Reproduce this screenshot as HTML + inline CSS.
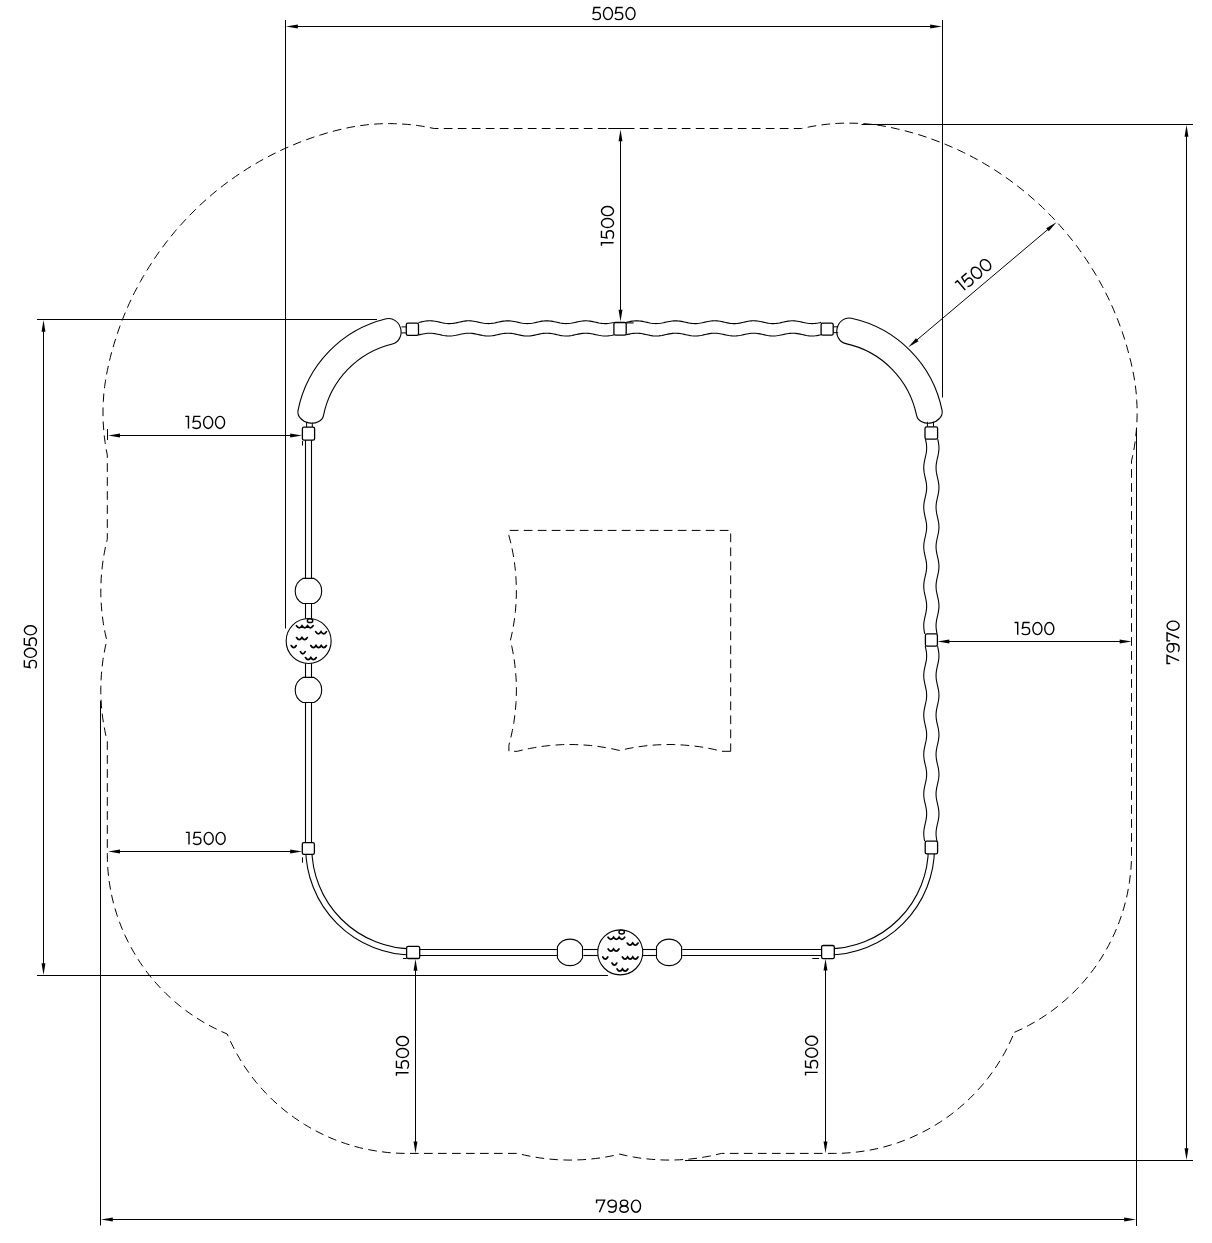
<!DOCTYPE html>
<html><head><meta charset="utf-8"><style>
html,body{margin:0;padding:0;background:#fff;}
svg{display:block;}
text{font-family:"Liberation Sans",sans-serif;fill:#000;text-anchor:middle;stroke:#fff;stroke-width:0.45px;}

.s{stroke:#000;stroke-width:1;fill:none;}
.f{fill:#000;stroke:none;}
.d{stroke:#000;stroke-width:1;fill:none;stroke-dasharray:8.7 5.3;}
.st{stroke:#000;stroke-width:1.1;fill:none;}
.th{stroke:#000;stroke-width:1.0;fill:none;}
.cn{stroke:#000;stroke-width:1.3;fill:#fff;}
.gt{stroke:#000;stroke-width:1.4;fill:none;stroke-linejoin:miter;}
.cup{stroke:#000;stroke-width:1.75;fill:none;stroke-linecap:round;}
</style></head><body>
<svg width="1212" height="1243" viewBox="0 0 1212 1243">
<rect width="1212" height="1243" fill="#fff"/>
<path class="d" d="M1014.4 1032.3L1022.3 1028.7L1028.7 1025.4L1034.9 1021.9L1041.1 1018.2L1047.0 1014.3L1052.9 1010.1L1058.5 1005.8L1062.2 1002.7L1065.8 999.6L1071.1 994.8L1076.2 989.7L1081.1 984.5L1084.3 980.9L1088.9 975.4L1093.2 969.8L1097.4 963.9L1101.3 958.0L1105.0 951.8L1108.5 945.6L1111.8 939.2L1114.8 932.7L1117.6 926.1L1119.3 921.7L1121.7 914.9L1123.8 908.1L1125.7 901.2L1127.3 894.2L1128.6 887.2L1129.4 882.4L1130.3 875.3L1131.0 868.2L1131.4 861.1L1131.5 853.9L1131.5 460.9L1132.6 456.1L1133.6 451.1L1134.5 446.1L1135.2 441.1L1135.8 436.0L1136.3 430.9L1136.9 423.3L1137.1 415.7L1137.1 410.6L1137.0 405.5L1136.7 400.4L1136.4 395.3L1135.9 390.2L1135.3 385.1L1134.5 380.1L1133.7 375.1L1132.4 368.9L1131.0 362.4L1129.5 356.5L1127.8 350.1L1126.2 344.3L1124.2 338.0L1122.3 332.2L1120.5 327.1L1118.2 320.9L1115.9 315.3L1113.4 309.2L1110.9 303.7L1108.1 297.6L1105.4 292.2L1102.3 286.3L1099.4 281.0L1096.2 275.3L1093.0 270.1L1089.5 264.5L1086.2 259.4L1082.4 254.0L1079.3 249.5L1075.7 244.7L1072.4 240.4L1068.2 235.2L1064.3 230.6L1060.0 225.6L1055.9 221.1L1051.4 216.3L1047.1 212.0L1042.4 207.3L1038.0 203.2L1033.0 198.8L1028.9 195.2L1024.8 191.7L1020.0 188.0L1014.8 183.9L1009.9 180.3L1005.5 177.2L1000.0 173.4L995.0 170.1L989.4 166.6L984.2 163.5L979.5 160.8L973.6 157.6L968.3 154.8L963.4 152.4L957.4 149.5L951.9 147.1L945.8 144.5L940.2 142.2L934.0 139.9L928.3 137.8L922.0 135.7L916.2 133.9L909.9 132.1L904.0 130.5L897.6 129.0L891.0 127.5L886.0 126.5L880.9 125.6L875.9 124.9L868.3 124.0L863.2 123.6L858.1 123.3L853.0 123.2L847.9 123.1L842.8 123.2L837.7 123.4L832.6 123.7L827.6 124.2L820.0 125.1L814.9 125.9L809.9 126.8L801.6 128.5L434.2 128.5L427.6 127.2L422.6 126.3L417.6 125.5L412.5 124.9L407.4 124.4L399.8 123.9L394.7 123.7L389.6 123.6L384.5 123.7L379.4 123.8L371.8 124.3L366.7 124.8L359.1 125.8L354.1 126.6L349.1 127.5L341.6 129.2L334.5 130.9L327.6 132.8L320.8 134.9L312.9 137.4L305.7 140.0L299.0 142.5L291.4 145.7L284.8 148.5L278.4 151.5L272.0 154.7L265.7 158.0L259.5 161.4L253.4 165.0L247.3 168.7L241.3 172.6L235.4 176.6L229.6 180.7L223.9 184.9L218.3 189.3L212.8 193.8L207.4 198.5L202.1 203.2L196.9 208.1L191.9 213.1L187.7 217.3L183.3 222.1L179.3 226.5L175.0 231.4L171.3 236.0L167.2 241.1L163.6 245.8L159.7 251.0L156.3 255.9L152.7 261.3L149.5 266.3L146.0 271.8L143.3 276.4L140.4 281.5L137.3 287.3L134.5 292.5L131.7 298.4L129.1 303.8L126.5 309.7L124.2 315.2L121.8 321.2L119.7 326.8L117.6 332.9L115.7 338.6L113.8 344.8L111.8 351.6L110.3 357.4L108.8 363.7L107.3 370.7L106.2 376.3L105.4 381.3L104.7 386.3L103.8 393.9L103.3 401.6L103.0 409.2L103.0 416.9L103.2 422.0L103.5 427.1L103.9 432.1L104.4 437.2L105.1 442.3L105.8 447.3L107.3 455.1L107.3 539.3L105.8 545.4L104.3 552.9L103.4 557.9L102.4 565.5L101.6 573.1L101.2 578.2L100.9 585.8L100.8 593.5L100.9 598.5L101.4 606.2L101.8 611.3L102.4 616.3L103.4 623.9L104.3 628.9L105.3 633.9L106.8 640.4L105.3 646.9L103.9 654.4L103.0 659.4L102.1 667.0L101.4 674.6L101.1 679.7L100.8 687.3L100.8 692.5L100.9 697.5L101.4 705.2L101.8 710.3L102.7 717.9L103.9 725.4L104.8 730.4L105.8 735.4L107.3 741.5L107.3 854.4L107.4 859.2L107.5 863.9L108.0 871.1L108.8 878.2L109.4 882.9L110.6 890.0L112.0 897.0L113.7 904.0L115.0 908.6L117.1 915.4L119.5 922.2L122.1 928.8L125.0 935.4L128.1 941.8L130.3 946.1L133.8 952.3L136.2 956.4L140.1 962.5L144.2 968.3L147.0 972.2L151.4 977.8L156.1 983.2L160.9 988.5L166.0 993.6L171.2 998.5L174.8 1001.7L180.3 1006.3L185.9 1010.6L189.8 1013.4L195.7 1017.4L201.8 1021.2L208.0 1024.8L214.4 1028.1L220.8 1031.2L227.2 1034.0L228.8 1037.7L230.8 1042.1L232.9 1046.3L235.1 1050.6L237.4 1054.8L239.8 1058.9L242.3 1063.0L244.9 1067.0L247.6 1070.9L250.4 1074.8L253.3 1078.6L256.2 1082.3L259.3 1085.9L262.5 1089.5L265.7 1093.0L269.1 1096.4L272.5 1099.8L276.0 1103.0L281.4 1107.7L285.1 1110.8L288.8 1113.7L294.6 1117.9L300.5 1121.9L304.6 1124.5L308.7 1126.9L312.8 1129.3L317.0 1131.5L323.4 1134.7L330.0 1137.7L334.4 1139.5L338.8 1141.2L345.6 1143.6L350.1 1145.0L354.7 1146.4L359.3 1147.6L364.0 1148.7L371.0 1150.1L375.7 1150.9L380.4 1151.6L387.5 1152.5L392.3 1152.9L397.1 1153.2L404.2 1153.4L517.8 1153.4L524.6 1155.1L532.1 1156.6L539.6 1157.9L544.7 1158.5L549.7 1159.1L557.4 1159.7L565.0 1160.0L570.1 1160.1L575.2 1160.0L582.8 1159.7L590.5 1159.1L595.5 1158.5L600.6 1157.9L608.1 1156.6L613.1 1155.6L619.6 1154.1L626.1 1155.6L633.6 1157.0L638.6 1157.9L646.2 1158.8L651.3 1159.3L658.9 1159.8L664.0 1160.0L671.7 1160.1L679.3 1159.8L684.4 1159.5L689.5 1159.1L697.1 1158.2L704.6 1157.0L709.6 1156.1L714.6 1155.1L721.4 1153.4L834.3 1153.4L841.5 1153.3L846.2 1153.0L851.0 1152.7L858.1 1151.9L865.2 1150.9L869.9 1150.1L876.9 1148.7L883.9 1147.0L890.8 1145.0L897.6 1142.8L904.3 1140.4L910.9 1137.7L917.5 1134.7L923.9 1131.5L928.1 1129.3L934.3 1125.7L940.4 1121.9L946.3 1117.9L950.2 1115.1L955.8 1110.8L959.5 1107.7L964.9 1103.0L970.1 1098.1L975.2 1093.0L980.0 1087.7L983.1 1084.1L987.6 1078.6L991.9 1072.8L994.7 1068.9L997.3 1065.0L1001.1 1058.9L1004.7 1052.7L1008.0 1046.3L1011.1 1039.9Z"/>
<path class="d" d="M730.7 751.3L721.8 751.3L714.6 749.5L707.1 748.0L699.6 746.7L692.0 745.8L684.4 745.1L679.3 744.8L674.2 744.6L669.1 744.5L664.0 744.6L656.4 744.9L648.7 745.5L643.7 746.1L636.1 747.1L631.1 748.0L626.1 749.0L619.6 750.5L613.1 749.0L605.6 747.6L598.1 746.4L590.5 745.5L582.8 744.9L575.2 744.6L567.5 744.5L562.5 744.6L554.8 745.1L549.7 745.5L544.7 746.1L539.6 746.7L534.6 747.6L529.6 748.5L524.6 749.5L517.4 751.3L508.9 751.3L508.9 745.2L510.8 737.9L512.4 730.4L513.8 722.9L514.8 715.3L515.4 710.3L516.0 702.6L516.3 697.5L516.4 689.9L516.3 682.3L516.0 677.2L515.4 669.5L514.8 664.5L513.8 656.9L512.9 651.9L511.9 646.9L510.4 640.4L511.9 633.9L513.3 626.4L514.5 618.9L515.4 611.3L516.0 603.6L516.3 596.0L516.4 588.3L516.1 580.7L515.8 575.6L515.4 570.5L514.8 565.5L514.2 560.4L512.9 552.9L511.9 547.9L510.8 542.9L508.9 535.6L508.9 530.4L730.7 530.4Z"/>
<path class="st" d="M298.03 410.34A118.2 118.2 0 0 1 386.31 318.77A13 11.8 256.5 0 1 392.38 344.05A92.2 92.2 0 0 0 323.52 415.48A13 10.2 191.4 0 1 298.03 410.34Z"/>
<path class="st" d="M851.38 318.21A118.2 118.2 0 0 1 942.07 410.34A13 10.2 348.6 0 1 916.58 415.48A92.2 92.2 0 0 0 845.84 343.62A13 11.8 282.3 0 1 851.38 318.21Z"/>
<line class="th" x1="401.5" y1="326.9" x2="406.3" y2="326.9"/>
<line class="th" x1="401.5" y1="332.9" x2="406.3" y2="332.9"/>
<line class="th" x1="833.4" y1="326.8" x2="838.2" y2="326.8"/>
<line class="th" x1="833.4" y1="332.7" x2="838.2" y2="332.7"/>
<line class="th" x1="306.6" y1="422.5" x2="306.6" y2="427.3"/>
<line class="th" x1="312.3" y1="422.5" x2="312.3" y2="427.3"/>
<line class="th" x1="927.4" y1="421.8" x2="927.4" y2="426.8"/>
<line class="th" x1="933.5" y1="421.8" x2="933.5" y2="426.8"/>
<path class="st" d="M418.5 322.55L419.99 322.21L421.48 321.88L422.97 321.56L424.46 321.29L425.95 321.06L427.45 320.9L428.94 320.81L430.43 320.81L431.92 320.88L433.41 321.03L434.9 321.25L436.39 321.52L437.88 321.83L439.37 322.16L440.86 322.49L442.35 322.81L443.84 323.09L445.34 323.32L446.83 323.49L448.32 323.58L449.81 323.6L451.3 323.53L452.79 323.38L454.28 323.17L455.77 322.91L457.26 322.6L458.75 322.27L460.24 321.93L461.73 321.61L463.23 321.33L464.72 321.09L466.21 320.92L467.7 320.82L469.19 320.8L470.68 320.86L472.17 321L473.66 321.21L475.15 321.47L476.64 321.78L478.13 322.11L479.62 322.44L481.12 322.76L482.61 323.05L484.1 323.29L485.59 323.47L487.08 323.57L488.57 323.6L490.06 323.54L491.55 323.41L493.04 323.21L494.53 322.95L496.02 322.65L497.51 322.32L499.01 321.99L500.5 321.66L501.99 321.37L503.48 321.13L504.97 320.94L506.46 320.83L507.95 320.8L509.44 320.85L510.93 320.97L512.42 321.17L513.91 321.43L515.4 321.73L516.9 322.05L518.39 322.39L519.88 322.71L521.37 323.01L522.86 323.26L524.35 323.44L525.84 323.56L527.33 323.6L528.82 323.56L530.31 323.44L531.8 323.25L533.29 323L534.79 322.7L536.28 322.37L537.77 322.04L539.26 321.71L540.75 321.41L542.24 321.16L543.73 320.97L545.22 320.85L546.71 320.8L548.2 320.84L549.69 320.95L551.18 321.14L552.68 321.38L554.17 321.68L555.66 322L557.15 322.33L558.64 322.66L560.13 322.96L561.62 323.22L563.11 323.42L564.6 323.55L566.09 323.6L567.58 323.57L569.07 323.46L570.57 323.28L572.06 323.04L573.55 322.75L575.04 322.43L576.53 322.09L578.02 321.76L579.51 321.46L581 321.2L582.49 320.99L583.98 320.86L585.47 320.8L586.96 320.82L588.46 320.93L589.95 321.1L591.44 321.34L592.93 321.63L594.42 321.95L595.91 322.28L597.4 322.61L598.89 322.92L600.38 323.18L601.87 323.39L603.36 323.53L604.85 323.6L606.35 323.58L607.84 323.48L609.33 323.32L610.82 323.08L612.31 322.8L613.8 322.48"/>
<path class="st" d="M418.5 334.95L419.99 334.61L421.48 334.28L422.97 333.96L424.46 333.69L425.95 333.46L427.45 333.3L428.94 333.21L430.43 333.21L431.92 333.28L433.41 333.43L434.9 333.65L436.39 333.92L437.88 334.23L439.37 334.56L440.86 334.89L442.35 335.21L443.84 335.49L445.34 335.72L446.83 335.89L448.32 335.98L449.81 336L451.3 335.93L452.79 335.78L454.28 335.57L455.77 335.31L457.26 335L458.75 334.67L460.24 334.33L461.73 334.01L463.23 333.73L464.72 333.49L466.21 333.32L467.7 333.22L469.19 333.2L470.68 333.26L472.17 333.4L473.66 333.61L475.15 333.87L476.64 334.18L478.13 334.51L479.62 334.84L481.12 335.16L482.61 335.45L484.1 335.69L485.59 335.87L487.08 335.97L488.57 336L490.06 335.94L491.55 335.81L493.04 335.61L494.53 335.35L496.02 335.05L497.51 334.72L499.01 334.39L500.5 334.06L501.99 333.77L503.48 333.53L504.97 333.34L506.46 333.23L507.95 333.2L509.44 333.25L510.93 333.37L512.42 333.57L513.91 333.83L515.4 334.13L516.9 334.45L518.39 334.79L519.88 335.11L521.37 335.41L522.86 335.66L524.35 335.84L525.84 335.96L527.33 336L528.82 335.96L530.31 335.84L531.8 335.65L533.29 335.4L534.79 335.1L536.28 334.77L537.77 334.44L539.26 334.11L540.75 333.81L542.24 333.56L543.73 333.37L545.22 333.25L546.71 333.2L548.2 333.24L549.69 333.35L551.18 333.54L552.68 333.78L554.17 334.08L555.66 334.4L557.15 334.73L558.64 335.06L560.13 335.36L561.62 335.62L563.11 335.82L564.6 335.95L566.09 336L567.58 335.97L569.07 335.86L570.57 335.68L572.06 335.44L573.55 335.15L575.04 334.83L576.53 334.49L578.02 334.16L579.51 333.86L581 333.6L582.49 333.39L583.98 333.26L585.47 333.2L586.96 333.22L588.46 333.33L589.95 333.5L591.44 333.74L592.93 334.03L594.42 334.35L595.91 334.68L597.4 335.01L598.89 335.32L600.38 335.58L601.87 335.79L603.36 335.93L604.85 336L606.35 335.98L607.84 335.88L609.33 335.72L610.82 335.48L612.31 335.2L613.8 334.88"/>
<path class="st" d="M626.2 322.35L627.69 322.01L629.18 321.69L630.67 321.39L632.15 321.14L633.64 320.96L635.13 320.84L636.62 320.8L638.11 320.84L639.6 320.96L641.09 321.15L642.57 321.4L644.06 321.7L645.55 322.02L647.04 322.36L648.53 322.68L650.02 322.98L651.51 323.23L652.99 323.43L654.48 323.55L655.97 323.6L657.46 323.57L658.95 323.46L660.44 323.27L661.93 323.03L663.41 322.74L664.9 322.41L666.39 322.08L667.88 321.75L669.37 321.45L670.86 321.19L672.35 320.99L673.83 320.86L675.32 320.8L676.81 320.83L678.3 320.93L679.79 321.11L681.28 321.35L682.76 321.63L684.25 321.95L685.74 322.29L687.23 322.62L688.72 322.92L690.21 323.19L691.7 323.39L693.18 323.53L694.67 323.6L696.16 323.58L697.65 323.48L699.14 323.31L700.63 323.08L702.12 322.8L703.6 322.48L705.09 322.15L706.58 321.81L708.07 321.51L709.56 321.24L711.05 321.02L712.54 320.88L714.02 320.81L715.51 320.82L717 320.9L718.49 321.07L719.98 321.29L721.47 321.57L722.96 321.89L724.44 322.22L725.93 322.55L727.42 322.86L728.91 323.14L730.4 323.36L731.89 323.51L733.38 323.59L734.86 323.59L736.35 323.51L737.84 323.35L739.33 323.13L740.82 322.86L742.31 322.54L743.8 322.21L745.28 321.88L746.77 321.56L748.26 321.29L749.75 321.06L751.24 320.9L752.73 320.81L754.22 320.81L755.7 320.88L757.19 321.03L758.68 321.24L760.17 321.51L761.66 321.82L763.15 322.15L764.64 322.49L766.12 322.8L767.61 323.09L769.1 323.32L770.59 323.49L772.08 323.58L773.57 323.6L775.05 323.53L776.54 323.39L778.03 323.18L779.52 322.92L781.01 322.61L782.5 322.28L783.99 321.95L785.47 321.63L786.96 321.34L788.45 321.1L789.94 320.93L791.43 320.82L792.92 320.8L794.41 320.86L795.89 320.99L797.38 321.2L798.87 321.46L800.36 321.76L801.85 322.09L803.34 322.42L804.83 322.74L806.31 323.03L807.8 323.28L809.29 323.46L810.78 323.57L812.27 323.6L813.76 323.55L815.25 323.42L816.73 323.23L818.22 322.97L819.71 322.67L821.2 322.35"/>
<path class="st" d="M626.2 334.75L627.69 334.41L629.18 334.09L630.67 333.79L632.15 333.54L633.64 333.36L635.13 333.24L636.62 333.2L638.11 333.24L639.6 333.36L641.09 333.55L642.57 333.8L644.06 334.1L645.55 334.42L647.04 334.76L648.53 335.08L650.02 335.38L651.51 335.63L652.99 335.83L654.48 335.95L655.97 336L657.46 335.97L658.95 335.86L660.44 335.67L661.93 335.43L663.41 335.14L664.9 334.81L666.39 334.48L667.88 334.15L669.37 333.85L670.86 333.59L672.35 333.39L673.83 333.26L675.32 333.2L676.81 333.23L678.3 333.33L679.79 333.51L681.28 333.75L682.76 334.03L684.25 334.35L685.74 334.69L687.23 335.02L688.72 335.32L690.21 335.59L691.7 335.79L693.18 335.93L694.67 336L696.16 335.98L697.65 335.88L699.14 335.71L700.63 335.48L702.12 335.2L703.6 334.88L705.09 334.55L706.58 334.21L708.07 333.91L709.56 333.64L711.05 333.42L712.54 333.28L714.02 333.21L715.51 333.22L717 333.3L718.49 333.47L719.98 333.69L721.47 333.97L722.96 334.29L724.44 334.62L725.93 334.95L727.42 335.26L728.91 335.54L730.4 335.76L731.89 335.91L733.38 335.99L734.86 335.99L736.35 335.91L737.84 335.75L739.33 335.53L740.82 335.26L742.31 334.94L743.8 334.61L745.28 334.28L746.77 333.96L748.26 333.69L749.75 333.46L751.24 333.3L752.73 333.21L754.22 333.21L755.7 333.28L757.19 333.43L758.68 333.64L760.17 333.91L761.66 334.22L763.15 334.55L764.64 334.89L766.12 335.2L767.61 335.49L769.1 335.72L770.59 335.89L772.08 335.98L773.57 336L775.05 335.93L776.54 335.79L778.03 335.58L779.52 335.32L781.01 335.01L782.5 334.68L783.99 334.35L785.47 334.03L786.96 333.74L788.45 333.5L789.94 333.33L791.43 333.22L792.92 333.2L794.41 333.26L795.89 333.39L797.38 333.6L798.87 333.86L800.36 334.16L801.85 334.49L803.34 334.82L804.83 335.14L806.31 335.43L807.8 335.68L809.29 335.86L810.78 335.97L812.27 336L813.76 335.95L815.25 335.82L816.73 335.63L818.22 335.37L819.71 335.07L821.2 334.75"/>
<line class="st" x1="626.2" y1="322.9" x2="633.7" y2="322.9"/>
<path class="st" d="M925.45 439.2L925.78 440.7L926.07 442.19L926.32 443.69L926.51 445.19L926.62 446.68L926.65 448.18L926.6 449.68L926.47 451.18L926.27 452.67L926.01 454.17L925.7 455.67L925.36 457.16L925.02 458.66L924.69 460.16L924.38 461.65L924.12 463.15L923.92 464.65L923.8 466.14L923.75 467.64L923.79 469.14L923.9 470.64L924.09 472.13L924.34 473.63L924.64 475.13L924.97 476.62L925.31 478.12L925.65 479.62L925.96 481.11L926.23 482.61L926.44 484.11L926.58 485.6L926.65 487.1L926.63 488.6L926.53 490.1L926.35 491.59L926.11 493.09L925.82 494.59L925.5 496.08L925.15 497.58L924.81 499.08L924.49 500.57L924.21 502.07L923.99 503.57L923.84 505.06L923.76 506.56L923.76 508.06L923.85 509.56L924.01 511.05L924.24 512.55L924.52 514.05L924.84 515.54L925.18 517.04L925.52 518.54L925.85 520.03L926.14 521.53L926.37 523.03L926.54 524.52L926.63 526.02L926.65 527.52L926.58 529.02L926.43 530.51L926.21 532.01L925.94 533.51L925.63 535L925.29 536.5L924.94 538L924.61 539.49L924.32 540.99L924.07 542.49L923.89 543.98L923.78 545.48L923.75 546.98L923.8 548.48L923.94 549.97L924.14 551.47L924.4 552.97L924.71 554.46L925.05 555.96L925.39 557.46L925.72 558.95L926.03 560.45L926.29 561.95L926.48 563.44L926.61 564.94L926.65 566.44L926.61 567.94L926.5 569.43L926.3 570.93L926.05 572.43L925.75 573.92L925.42 575.42L925.08 576.92L924.74 578.41L924.43 579.91L924.16 581.41L923.95 582.9L923.81 584.4L923.75 585.9L923.77 587.4L923.88 588.89L924.05 590.39L924.29 591.89L924.59 593.38L924.91 594.88L925.26 596.38L925.6 597.87L925.92 599.37L926.19 600.87L926.41 602.36L926.57 603.86L926.64 605.36L926.64 606.86L926.55 608.35L926.39 609.85L926.16 611.35L925.87 612.84L925.55 614.34L925.21 615.84L924.87 617.33L924.54 618.83L924.26 620.33L924.02 621.82L923.86 623.32L923.77 624.82L923.76 626.32L923.83 627.81L923.98 629.31L924.19 630.81L924.47 632.3L924.78 633.8"/>
<path class="st" d="M937.75 439.2L938.08 440.7L938.37 442.19L938.62 443.69L938.81 445.19L938.92 446.68L938.95 448.18L938.9 449.68L938.77 451.18L938.57 452.67L938.31 454.17L938 455.67L937.66 457.16L937.32 458.66L936.99 460.16L936.68 461.65L936.42 463.15L936.22 464.65L936.1 466.14L936.05 467.64L936.09 469.14L936.2 470.64L936.39 472.13L936.64 473.63L936.94 475.13L937.27 476.62L937.61 478.12L937.95 479.62L938.26 481.11L938.53 482.61L938.74 484.11L938.88 485.6L938.95 487.1L938.93 488.6L938.83 490.1L938.65 491.59L938.41 493.09L938.12 494.59L937.8 496.08L937.45 497.58L937.11 499.08L936.79 500.57L936.51 502.07L936.29 503.57L936.14 505.06L936.06 506.56L936.06 508.06L936.15 509.56L936.31 511.05L936.54 512.55L936.82 514.05L937.14 515.54L937.48 517.04L937.82 518.54L938.15 520.03L938.44 521.53L938.67 523.03L938.84 524.52L938.93 526.02L938.95 527.52L938.88 529.02L938.73 530.51L938.51 532.01L938.24 533.51L937.93 535L937.59 536.5L937.24 538L936.91 539.49L936.62 540.99L936.37 542.49L936.19 543.98L936.08 545.48L936.05 546.98L936.1 548.48L936.24 549.97L936.44 551.47L936.7 552.97L937.01 554.46L937.35 555.96L937.69 557.46L938.02 558.95L938.33 560.45L938.59 561.95L938.78 563.44L938.91 564.94L938.95 566.44L938.91 567.94L938.8 569.43L938.6 570.93L938.35 572.43L938.05 573.92L937.72 575.42L937.38 576.92L937.04 578.41L936.73 579.91L936.46 581.41L936.25 582.9L936.11 584.4L936.05 585.9L936.07 587.4L936.18 588.89L936.35 590.39L936.59 591.89L936.89 593.38L937.21 594.88L937.56 596.38L937.9 597.87L938.22 599.37L938.49 600.87L938.71 602.36L938.87 603.86L938.94 605.36L938.94 606.86L938.85 608.35L938.69 609.85L938.46 611.35L938.17 612.84L937.85 614.34L937.51 615.84L937.17 617.33L936.84 618.83L936.56 620.33L936.32 621.82L936.16 623.32L936.07 624.82L936.06 626.32L936.13 627.81L936.28 629.31L936.49 630.81L936.77 632.3L937.08 633.8"/>
<path class="st" d="M925.24 646.1L925.58 647.59L925.9 649.08L926.18 650.57L926.4 652.06L926.56 653.55L926.64 655.04L926.64 656.53L926.56 658.01L926.41 659.5L926.18 660.99L925.91 662.48L925.59 663.97L925.25 665.46L924.91 666.95L924.58 668.44L924.29 669.93L924.05 671.42L923.88 672.91L923.77 674.4L923.75 675.89L923.81 677.38L923.95 678.86L924.15 680.35L924.42 681.84L924.73 683.33L925.06 684.82L925.4 686.31L925.74 687.8L926.04 689.29L926.29 690.78L926.48 692.27L926.61 693.76L926.65 695.25L926.61 696.74L926.5 698.23L926.31 699.72L926.06 701.2L925.76 702.69L925.43 704.18L925.09 705.67L924.75 707.16L924.44 708.65L924.17 710.14L923.96 711.63L923.82 713.12L923.75 714.61L923.77 716.1L923.87 717.59L924.04 719.08L924.27 720.57L924.56 722.05L924.88 723.54L925.23 725.03L925.56 726.52L925.88 728.01L926.16 729.5L926.39 730.99L926.55 732.48L926.64 733.97L926.64 735.46L926.57 736.95L926.41 738.44L926.19 739.93L925.92 741.42L925.6 742.91L925.26 744.39L924.92 745.88L924.6 747.37L924.3 748.86L924.06 750.35L923.88 751.84L923.78 753.33L923.75 754.82L923.81 756.31L923.94 757.8L924.14 759.29L924.41 760.78L924.71 762.27L925.05 763.76L925.39 765.25L925.72 766.73L926.02 768.22L926.28 769.71L926.48 771.2L926.6 772.69L926.65 774.18L926.62 775.67L926.5 777.16L926.32 778.65L926.07 780.14L925.77 781.63L925.44 783.12L925.1 784.61L924.76 786.1L924.45 787.58L924.18 789.07L923.97 790.56L923.82 792.05L923.75 793.54L923.77 795.03L923.86 796.52L924.03 798.01L924.26 799.5L924.55 800.99L924.87 802.48L925.21 803.97L925.55 805.46L925.87 806.95L926.15 808.44L926.38 809.92L926.55 811.41L926.64 812.9L926.64 814.39L926.57 815.88L926.42 817.37L926.21 818.86L925.93 820.35L925.62 821.84L925.28 823.33L924.94 824.82L924.61 826.31L924.32 827.8L924.07 829.29L923.89 830.77L923.78 832.26L923.75 833.75L923.8 835.24L923.93 836.73L924.13 838.22L924.39 839.71L924.7 841.2"/>
<path class="st" d="M937.54 646.1L937.88 647.59L938.2 649.08L938.48 650.57L938.7 652.06L938.86 653.55L938.94 655.04L938.94 656.53L938.86 658.01L938.71 659.5L938.48 660.99L938.21 662.48L937.89 663.97L937.55 665.46L937.21 666.95L936.88 668.44L936.59 669.93L936.35 671.42L936.18 672.91L936.07 674.4L936.05 675.89L936.11 677.38L936.25 678.86L936.45 680.35L936.72 681.84L937.03 683.33L937.36 684.82L937.7 686.31L938.04 687.8L938.34 689.29L938.59 690.78L938.78 692.27L938.91 693.76L938.95 695.25L938.91 696.74L938.8 698.23L938.61 699.72L938.36 701.2L938.06 702.69L937.73 704.18L937.39 705.67L937.05 707.16L936.74 708.65L936.47 710.14L936.26 711.63L936.12 713.12L936.05 714.61L936.07 716.1L936.17 717.59L936.34 719.08L936.57 720.57L936.86 722.05L937.18 723.54L937.53 725.03L937.86 726.52L938.18 728.01L938.46 729.5L938.69 730.99L938.85 732.48L938.94 733.97L938.94 735.46L938.87 736.95L938.71 738.44L938.49 739.93L938.22 741.42L937.9 742.91L937.56 744.39L937.22 745.88L936.9 747.37L936.6 748.86L936.36 750.35L936.18 751.84L936.08 753.33L936.05 754.82L936.11 756.31L936.24 757.8L936.44 759.29L936.71 760.78L937.01 762.27L937.35 763.76L937.69 765.25L938.02 766.73L938.32 768.22L938.58 769.71L938.78 771.2L938.9 772.69L938.95 774.18L938.92 775.67L938.8 777.16L938.62 778.65L938.37 780.14L938.07 781.63L937.74 783.12L937.4 784.61L937.06 786.1L936.75 787.58L936.48 789.07L936.27 790.56L936.12 792.05L936.05 793.54L936.07 795.03L936.16 796.52L936.33 798.01L936.56 799.5L936.85 800.99L937.17 802.48L937.51 803.97L937.85 805.46L938.17 806.95L938.45 808.44L938.68 809.92L938.85 811.41L938.94 812.9L938.94 814.39L938.87 815.88L938.72 817.37L938.51 818.86L938.23 820.35L937.92 821.84L937.58 823.33L937.24 824.82L936.91 826.31L936.62 827.8L936.37 829.29L936.19 830.77L936.08 832.26L936.05 833.75L936.1 835.24L936.23 836.73L936.43 838.22L936.69 839.71L937 841.2"/>
<line class="st" x1="305.5" y1="440.2" x2="305.5" y2="578.2"/>
<line class="st" x1="311.5" y1="440.2" x2="311.5" y2="578.2"/>
<line class="st" x1="305.5" y1="603.6" x2="305.5" y2="618.7"/>
<line class="st" x1="311.5" y1="603.6" x2="311.5" y2="618.7"/>
<line class="st" x1="305.5" y1="663.3" x2="305.5" y2="677.2"/>
<line class="st" x1="311.5" y1="663.3" x2="311.5" y2="677.2"/>
<line class="st" x1="305.5" y1="702.6" x2="305.5" y2="842.6"/>
<line class="st" x1="311.5" y1="702.6" x2="311.5" y2="842.6"/>
<path class="st" d="M305.7 847.7A107.3 107.3 0 0 0 413 955"/>
<path class="st" d="M311.8 847.7A101.2 101.2 0 0 0 413 948.9"/>
<line class="st" x1="419.7" y1="949.5" x2="556.9" y2="949.5"/>
<line class="st" x1="419.7" y1="955.5" x2="556.9" y2="955.5"/>
<line class="st" x1="583.3" y1="949.5" x2="597.9" y2="949.5"/>
<line class="st" x1="583.3" y1="955.5" x2="597.9" y2="955.5"/>
<line class="st" x1="642.6" y1="949.5" x2="655.9" y2="949.5"/>
<line class="st" x1="642.6" y1="955.5" x2="655.9" y2="955.5"/>
<line class="st" x1="682.3" y1="949.5" x2="821.6" y2="949.5"/>
<line class="st" x1="682.3" y1="955.5" x2="821.6" y2="955.5"/>
<path class="st" d="M827.2 948.9A101.2 101.2 0 0 0 928.4 847.7"/>
<path class="st" d="M827.2 955A107.3 107.3 0 0 0 934.5 847.7"/>
<path class="st" d="M302.87 578.4L314.03 578.4A14.1 14.1 0 0 1 314.03 603.5L302.87 603.5A14.1 14.1 0 0 1 302.87 578.4Z"/>
<circle class="st" cx="308.65" cy="640.95" r="22.5"/>
<ellipse class="st" style="stroke-width:1.4" cx="310.05" cy="620.65" rx="2.7" ry="1.9"/>
<path class="cup" d="M296.45 625.75q2.77 4.2 5.55 0q2.77 4.2 5.55 0q2.77 4.2 5.55 0M315.65 631.65q2.7 4.2 5.4 0q2.7 4.2 5.4 0M296.55 637.55q2.7 4.2 5.4 0q2.7 4.2 5.4 0M291.2 645.55q2.5 4.2 5 0M310.8 645.55q2.6 4.2 5.2 0q2.6 4.2 5.2 0q2.6 4.2 5.2 0M300.4 651.65q2.4 4.2 4.8 0M305.45 657.55q2.7 4.2 5.4 0q2.7 4.2 5.4 0"/>
<path class="st" d="M302.87 677.4L314.03 677.4A14.1 14.1 0 0 1 314.03 702.5L302.87 702.5A14.1 14.1 0 0 1 302.87 677.4Z"/>
<path class="st" d="M557.4 946.82A14.1 14.1 0 0 1 582.5 946.82L582.5 957.98A14.1 14.1 0 0 1 557.4 957.98Z"/>
<circle class="st" cx="620.25" cy="952.35" r="22.5"/>
<ellipse class="st" style="stroke-width:1.4" cx="621.65" cy="932.05" rx="2.7" ry="1.9"/>
<path class="cup" d="M608.05 937.15q2.77 4.2 5.55 0q2.77 4.2 5.55 0q2.77 4.2 5.55 0M627.25 943.05q2.7 4.2 5.4 0q2.7 4.2 5.4 0M608.15 948.95q2.7 4.2 5.4 0q2.7 4.2 5.4 0M602.8 956.95q2.5 4.2 5 0M622.4 956.95q2.6 4.2 5.2 0q2.6 4.2 5.2 0q2.6 4.2 5.2 0M612 963.05q2.4 4.2 4.8 0M617.05 968.95q2.7 4.2 5.4 0q2.7 4.2 5.4 0"/>
<path class="st" d="M656.5 946.82A14.1 14.1 0 0 1 681.6 946.82L681.6 957.98A14.1 14.1 0 0 1 656.5 957.98Z"/>
<rect class="cn" x="406.3" y="323.2" width="12.2" height="12.2" rx="1.6"/>
<rect class="cn" x="613.9" y="322.5" width="12.3" height="12.6" rx="1.6"/>
<rect class="cn" x="821.1" y="323.1" width="12.1" height="12.1" rx="1.6"/>
<rect class="cn" x="302.4" y="427.1" width="12.2" height="13" rx="1.6"/>
<rect class="cn" x="925" y="426.8" width="12.6" height="12.4" rx="1.6"/>
<rect class="cn" x="925.4" y="633.8" width="12" height="12.3" rx="1.6"/>
<rect class="cn" x="925.2" y="841.1" width="12.4" height="12.8" rx="1.6"/>
<rect class="cn" x="302.3" y="842.6" width="12.1" height="11.8" rx="1.6"/>
<rect class="cn" x="406.6" y="946.3" width="13.1" height="12.2" rx="1.6"/>
<rect class="cn" x="821.6" y="945.5" width="12.7" height="13.1" rx="1.6"/>
<line class="s" x1="285.5" y1="20" x2="285.5" y2="628.5"/>
<line class="s" x1="942.5" y1="20" x2="942.5" y2="397.5"/>
<line class="s" x1="290" y1="26.5" x2="938" y2="26.5"/>
<path class="f" d="M286 26.5L297.8 24.55L297.8 28.45Z"/>
<path class="f" d="M942 26.5L930.2 28.45L930.2 24.55Z"/>
<g class="gt" transform="translate(591.9 20.3)"><path transform="translate(0.00 0)" d="M8.55 -12.75L2.2 -12.75L1.35 -7.2C2.4 -7.7 3.6 -7.95 4.7 -7.95C7.1 -7.95 8.55 -6.4 8.55 -4.25C8.55 -2.0 6.9 -0.65 4.6 -0.65C3.0 -0.65 1.6 -1.15 0.65 -2.0"/><path transform="translate(10.90 0)" d="M0.65 -6.70A4.55 6.05 0 1 0 9.75 -6.70A4.55 6.05 0 1 0 0.65 -6.70Z"/><path transform="translate(22.30 0)" d="M8.55 -12.75L2.2 -12.75L1.35 -7.2C2.4 -7.7 3.6 -7.95 4.7 -7.95C7.1 -7.95 8.55 -6.4 8.55 -4.25C8.55 -2.0 6.9 -0.65 4.6 -0.65C3.0 -0.65 1.6 -1.15 0.65 -2.0"/><path transform="translate(33.40 0)" d="M0.65 -6.70A4.55 6.05 0 1 0 9.75 -6.70A4.55 6.05 0 1 0 0.65 -6.70Z"/></g>
<line class="s" x1="861.5" y1="124.5" x2="1193" y2="124.5"/>
<line class="s" x1="685" y1="1160.5" x2="1193" y2="1160.5"/>
<line class="s" x1="1186.5" y1="129" x2="1186.5" y2="1156"/>
<path class="f" d="M1186.5 125L1188.45 136.8L1184.55 136.8Z"/>
<path class="f" d="M1186.5 1160L1184.55 1148.2L1188.45 1148.2Z"/>
<g class="gt" transform="translate(1179.8 664.1) rotate(-90)"><path transform="translate(0.00 0)" d="M0.65 -9.6L0.65 -12.75L8.75 -12.75L3.5 -0.65"/><path transform="translate(11.30 0)" d="M0.70 -9.30A4.15 3.45 0 1 0 9.00 -9.30A4.15 3.45 0 1 0 0.70 -9.30ZM9.0 -9.3L9.0 -6.2C9.0 -2.6 7.2 -0.65 4.8 -0.65C3.3 -0.65 2.1 -1.05 1.2 -1.75"/><path transform="translate(22.60 0)" d="M0.65 -9.6L0.65 -12.75L8.75 -12.75L3.5 -0.65"/><path transform="translate(33.20 0)" d="M0.65 -6.70A4.55 6.05 0 1 0 9.75 -6.70A4.55 6.05 0 1 0 0.65 -6.70Z"/></g>
<line class="s" x1="37" y1="319.5" x2="377" y2="319.5"/>
<line class="s" x1="37" y1="975.5" x2="608" y2="975.5"/>
<line class="s" x1="43.5" y1="324" x2="43.5" y2="971"/>
<path class="f" d="M43.5 320L45.45 331.8L41.55 331.8Z"/>
<path class="f" d="M43.5 975L41.55 963.2L45.45 963.2Z"/>
<g class="gt" transform="translate(37.1 668.9) rotate(-90)"><path transform="translate(0.00 0)" d="M8.55 -12.75L2.2 -12.75L1.35 -7.2C2.4 -7.7 3.6 -7.95 4.7 -7.95C7.1 -7.95 8.55 -6.4 8.55 -4.25C8.55 -2.0 6.9 -0.65 4.6 -0.65C3.0 -0.65 1.6 -1.15 0.65 -2.0"/><path transform="translate(10.90 0)" d="M0.65 -6.70A4.55 6.05 0 1 0 9.75 -6.70A4.55 6.05 0 1 0 0.65 -6.70Z"/><path transform="translate(22.30 0)" d="M8.55 -12.75L2.2 -12.75L1.35 -7.2C2.4 -7.7 3.6 -7.95 4.7 -7.95C7.1 -7.95 8.55 -6.4 8.55 -4.25C8.55 -2.0 6.9 -0.65 4.6 -0.65C3.0 -0.65 1.6 -1.15 0.65 -2.0"/><path transform="translate(33.40 0)" d="M0.65 -6.70A4.55 6.05 0 1 0 9.75 -6.70A4.55 6.05 0 1 0 0.65 -6.70Z"/></g>
<line class="s" x1="100.5" y1="701" x2="100.5" y2="1225.5"/>
<line class="s" x1="1136.5" y1="428.5" x2="1136.5" y2="1226"/>
<line class="s" x1="105" y1="1219.5" x2="1132" y2="1219.5"/>
<path class="f" d="M101 1219.5L112.8 1217.55L112.8 1221.45Z"/>
<path class="f" d="M1136 1219.5L1124.2 1221.45L1124.2 1217.55Z"/>
<g class="gt" transform="translate(595.9 1212.9)"><path transform="translate(0.00 0)" d="M0.65 -9.6L0.65 -12.75L8.75 -12.75L3.5 -0.65"/><path transform="translate(11.30 0)" d="M0.70 -9.30A4.15 3.45 0 1 0 9.00 -9.30A4.15 3.45 0 1 0 0.70 -9.30ZM9.0 -9.3L9.0 -6.2C9.0 -2.6 7.2 -0.65 4.8 -0.65C3.3 -0.65 2.1 -1.05 1.2 -1.75"/><path transform="translate(23.30 0)" d="M1.25 -9.82A3.60 2.92 0 1 0 8.45 -9.82A3.60 2.92 0 1 0 1.25 -9.82ZM0.65 -3.77A4.20 3.12 0 1 0 9.05 -3.77A4.20 3.12 0 1 0 0.65 -3.77Z"/><path transform="translate(34.90 0)" d="M0.65 -6.70A4.55 6.05 0 1 0 9.75 -6.70A4.55 6.05 0 1 0 0.65 -6.70Z"/></g>
<line class="s" x1="608.2" y1="128.5" x2="628.8" y2="128.5"/>
<line class="s" x1="620.5" y1="133.5" x2="620.5" y2="317.5"/>
<path class="f" d="M620.5 129.5L622.45 141.3L618.55 141.3Z"/>
<path class="f" d="M620.5 321.5L618.55 309.7L622.45 309.7Z"/>
<g class="gt" transform="translate(614.2 246.5) rotate(-90)"><path transform="translate(0.00 0)" d="M0.65 -12.75L3.8 -12.75L3.8 -0.65"/><path transform="translate(7.20 0)" d="M8.55 -12.75L2.2 -12.75L1.35 -7.2C2.4 -7.7 3.6 -7.95 4.7 -7.95C7.1 -7.95 8.55 -6.4 8.55 -4.25C8.55 -2.0 6.9 -0.65 4.6 -0.65C3.0 -0.65 1.6 -1.15 0.65 -2.0"/><path transform="translate(18.30 0)" d="M0.65 -6.70A4.55 6.05 0 1 0 9.75 -6.70A4.55 6.05 0 1 0 0.65 -6.70Z"/><path transform="translate(30.20 0)" d="M0.65 -6.70A4.55 6.05 0 1 0 9.75 -6.70A4.55 6.05 0 1 0 0.65 -6.70Z"/></g>
<line class="s" x1="911.26" y1="344.72" x2="1053.44" y2="224.78"/>
<path class="f" d="M908.2 347.3L915.96 338.2L918.48 341.18Z"/>
<path class="f" d="M1056.5 222.2L1048.74 231.3L1046.22 228.32Z"/>
<g class="gt" transform="translate(962.77 293.02) rotate(-40.15)"><path transform="translate(0.00 0)" d="M0.65 -12.75L3.8 -12.75L3.8 -0.65"/><path transform="translate(7.20 0)" d="M8.55 -12.75L2.2 -12.75L1.35 -7.2C2.4 -7.7 3.6 -7.95 4.7 -7.95C7.1 -7.95 8.55 -6.4 8.55 -4.25C8.55 -2.0 6.9 -0.65 4.6 -0.65C3.0 -0.65 1.6 -1.15 0.65 -2.0"/><path transform="translate(18.30 0)" d="M0.65 -6.70A4.55 6.05 0 1 0 9.75 -6.70A4.55 6.05 0 1 0 0.65 -6.70Z"/><path transform="translate(30.20 0)" d="M0.65 -6.70A4.55 6.05 0 1 0 9.75 -6.70A4.55 6.05 0 1 0 0.65 -6.70Z"/></g>
<line class="s" x1="107.5" y1="429" x2="107.5" y2="440"/>
<line class="s" x1="302.5" y1="441" x2="302.5" y2="445.5"/>
<line class="s" x1="302.5" y1="857.3" x2="302.5" y2="862.7"/>
<line class="s" x1="403" y1="958.5" x2="406.6" y2="958.5"/>
<line class="s" x1="812.3" y1="958.5" x2="819.1" y2="958.5"/>
<line class="s" x1="112.2" y1="435.5" x2="298" y2="435.5"/>
<path class="f" d="M108.2 435.5L120 433.55L120 437.45Z"/>
<path class="f" d="M302 435.5L290.2 437.45L290.2 433.55Z"/>
<g class="gt" transform="translate(184.65 429.1)"><path transform="translate(0.00 0)" d="M0.65 -12.75L3.8 -12.75L3.8 -0.65"/><path transform="translate(7.20 0)" d="M8.55 -12.75L2.2 -12.75L1.35 -7.2C2.4 -7.7 3.6 -7.95 4.7 -7.95C7.1 -7.95 8.55 -6.4 8.55 -4.25C8.55 -2.0 6.9 -0.65 4.6 -0.65C3.0 -0.65 1.6 -1.15 0.65 -2.0"/><path transform="translate(18.30 0)" d="M0.65 -6.70A4.55 6.05 0 1 0 9.75 -6.70A4.55 6.05 0 1 0 0.65 -6.70Z"/><path transform="translate(30.20 0)" d="M0.65 -6.70A4.55 6.05 0 1 0 9.75 -6.70A4.55 6.05 0 1 0 0.65 -6.70Z"/></g>
<line class="s" x1="112.2" y1="851.5" x2="298" y2="851.5"/>
<path class="f" d="M108.2 851.5L120 849.55L120 853.45Z"/>
<path class="f" d="M302 851.5L290.2 853.45L290.2 849.55Z"/>
<g class="gt" transform="translate(185.2 845.1)"><path transform="translate(0.00 0)" d="M0.65 -12.75L3.8 -12.75L3.8 -0.65"/><path transform="translate(7.20 0)" d="M8.55 -12.75L2.2 -12.75L1.35 -7.2C2.4 -7.7 3.6 -7.95 4.7 -7.95C7.1 -7.95 8.55 -6.4 8.55 -4.25C8.55 -2.0 6.9 -0.65 4.6 -0.65C3.0 -0.65 1.6 -1.15 0.65 -2.0"/><path transform="translate(18.30 0)" d="M0.65 -6.70A4.55 6.05 0 1 0 9.75 -6.70A4.55 6.05 0 1 0 0.65 -6.70Z"/><path transform="translate(30.20 0)" d="M0.65 -6.70A4.55 6.05 0 1 0 9.75 -6.70A4.55 6.05 0 1 0 0.65 -6.70Z"/></g>
<line class="s" x1="941.5" y1="641.5" x2="1127.5" y2="641.5"/>
<path class="f" d="M937.5 641.5L949.3 639.55L949.3 643.45Z"/>
<path class="f" d="M1131.5 641.5L1119.7 643.45L1119.7 639.55Z"/>
<g class="gt" transform="translate(1013.9 635.3)"><path transform="translate(0.00 0)" d="M0.65 -12.75L3.8 -12.75L3.8 -0.65"/><path transform="translate(7.20 0)" d="M8.55 -12.75L2.2 -12.75L1.35 -7.2C2.4 -7.7 3.6 -7.95 4.7 -7.95C7.1 -7.95 8.55 -6.4 8.55 -4.25C8.55 -2.0 6.9 -0.65 4.6 -0.65C3.0 -0.65 1.6 -1.15 0.65 -2.0"/><path transform="translate(18.30 0)" d="M0.65 -6.70A4.55 6.05 0 1 0 9.75 -6.70A4.55 6.05 0 1 0 0.65 -6.70Z"/><path transform="translate(30.20 0)" d="M0.65 -6.70A4.55 6.05 0 1 0 9.75 -6.70A4.55 6.05 0 1 0 0.65 -6.70Z"/></g>
<line class="s" x1="415.5" y1="963" x2="415.5" y2="1149.3"/>
<path class="f" d="M415.5 959L417.45 970.8L413.55 970.8Z"/>
<path class="f" d="M415.5 1153.3L413.55 1141.5L417.45 1141.5Z"/>
<g class="gt" transform="translate(409.2 1076.5) rotate(-90)"><path transform="translate(0.00 0)" d="M0.65 -12.75L3.8 -12.75L3.8 -0.65"/><path transform="translate(7.20 0)" d="M8.55 -12.75L2.2 -12.75L1.35 -7.2C2.4 -7.7 3.6 -7.95 4.7 -7.95C7.1 -7.95 8.55 -6.4 8.55 -4.25C8.55 -2.0 6.9 -0.65 4.6 -0.65C3.0 -0.65 1.6 -1.15 0.65 -2.0"/><path transform="translate(18.30 0)" d="M0.65 -6.70A4.55 6.05 0 1 0 9.75 -6.70A4.55 6.05 0 1 0 0.65 -6.70Z"/><path transform="translate(30.20 0)" d="M0.65 -6.70A4.55 6.05 0 1 0 9.75 -6.70A4.55 6.05 0 1 0 0.65 -6.70Z"/></g>
<line class="s" x1="825.5" y1="962.8" x2="825.5" y2="1149.3"/>
<path class="f" d="M825.5 958.8L827.45 970.6L823.55 970.6Z"/>
<path class="f" d="M825.5 1153.3L823.55 1141.5L827.45 1141.5Z"/>
<g class="gt" transform="translate(818.3 1076.2) rotate(-90)"><path transform="translate(0.00 0)" d="M0.65 -12.75L3.8 -12.75L3.8 -0.65"/><path transform="translate(7.20 0)" d="M8.55 -12.75L2.2 -12.75L1.35 -7.2C2.4 -7.7 3.6 -7.95 4.7 -7.95C7.1 -7.95 8.55 -6.4 8.55 -4.25C8.55 -2.0 6.9 -0.65 4.6 -0.65C3.0 -0.65 1.6 -1.15 0.65 -2.0"/><path transform="translate(18.30 0)" d="M0.65 -6.70A4.55 6.05 0 1 0 9.75 -6.70A4.55 6.05 0 1 0 0.65 -6.70Z"/><path transform="translate(30.20 0)" d="M0.65 -6.70A4.55 6.05 0 1 0 9.75 -6.70A4.55 6.05 0 1 0 0.65 -6.70Z"/></g>
</svg>
</body></html>
